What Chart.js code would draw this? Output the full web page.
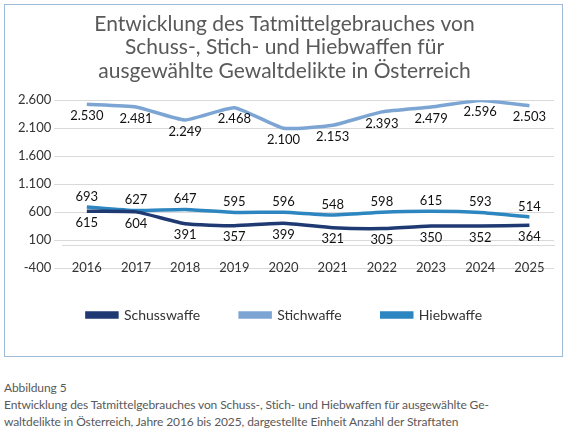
<!DOCTYPE html>
<html><head><meta charset="utf-8">
<script src="https://cdn.jsdelivr.net/npm/chart.js@4"></script>
<style>
body{margin:0;background:#fff;font-family:Lato,sans-serif;}
#box{position:absolute;left:4px;top:4px;width:557px;height:351px;border:1px solid #9dbbd9;}
#cap{position:absolute;left:4px;top:379px;width:565px;font-size:12px;color:#595959;line-height:17px;letter-spacing:-0.1px;}
</style></head><body>
<div id="box"><canvas id="c"></canvas></div>
<div id="cap">Abbildung 5<br>Entwicklung des Tatmittelgebrauches von Schuss-, Stich- und Hiebwaffen für ausgewählte Ge-<br>waltdelikte in Österreich, Jahre 2016 bis 2025, dargestellte Einheit Anzahl der Straftaten</div>
<script>
const years=['2016','2017','2018','2019','2020','2021','2022','2023','2024','2025'];
const schuss=[615,604,391,357,399,321,305,350,352,364];
const stich=[2530,2481,2249,2468,2100,2153,2393,2479,2596,2503];
const hieb=[693,627,647,595,596,548,598,615,593,514];
const fmt=v=>v.toLocaleString('de-DE');
const labelPlugin={id:'lbl',afterDatasetsDraw(ch){
  const ctx=ch.ctx;ctx.save();ctx.font='13px Lato';ctx.fillStyle='#111';ctx.textAlign='center';
  ch.data.datasets.forEach((ds,i)=>{
    const m=ch.getDatasetMeta(i);const above=ds.label==='Hiebwaffe';
    m.data.forEach((p,j)=>{ctx.textBaseline=above?'bottom':'top';ctx.fillText(fmt(ds.data[j]),p.x,above?p.y-4:p.y+5);});
  });ctx.restore();}};
new Chart(document.getElementById('c'),{type:'line',
 data:{labels:years,datasets:[
  {label:'Schusswaffe',data:schuss,borderColor:'#1f3a73',backgroundColor:'#1f3a73'},
  {label:'Stichwaffe',data:stich,borderColor:'#7ca5d3',backgroundColor:'#7ca5d3'},
  {label:'Hiebwaffe',data:hieb,borderColor:'#2e86c1',backgroundColor:'#2e86c1'}]},
 options:{responsive:true,maintainAspectRatio:false,animation:false,
  elements:{line:{borderWidth:3.5,tension:0.15},point:{radius:0}},
  layout:{padding:{left:10,right:8,top:0,bottom:24}},
  scales:{
   x:{position:{y:0},offset:true,grid:{display:false},border:{color:'#d9d9d9'},ticks:{color:'#333',font:{size:13,family:'Lato'},padding:6}},
   y:{min:-400,max:2600,ticks:{stepSize:500,color:'#333',font:{size:13,family:'Lato'},callback:v=>fmt(v)},grid:{color:'#d9d9d9'},border:{display:false}}},
  plugins:{
   title:{display:true,text:['Entwicklung des Tatmittelgebrauches von','Schuss-, Stich- und Hiebwaffen für','ausgewählte Gewaltdelikte in Österreich'],color:'#595959',font:{size:21,family:'Lato',weight:'normal',lineHeight:1.1},padding:{top:8,bottom:18}},
   legend:{position:'bottom',labels:{boxWidth:30,boxHeight:4,color:'#333',font:{size:14,family:'Lato'},padding:40}},
   tooltip:{enabled:false}}},
 plugins:[labelPlugin]});
</script></body></html>
